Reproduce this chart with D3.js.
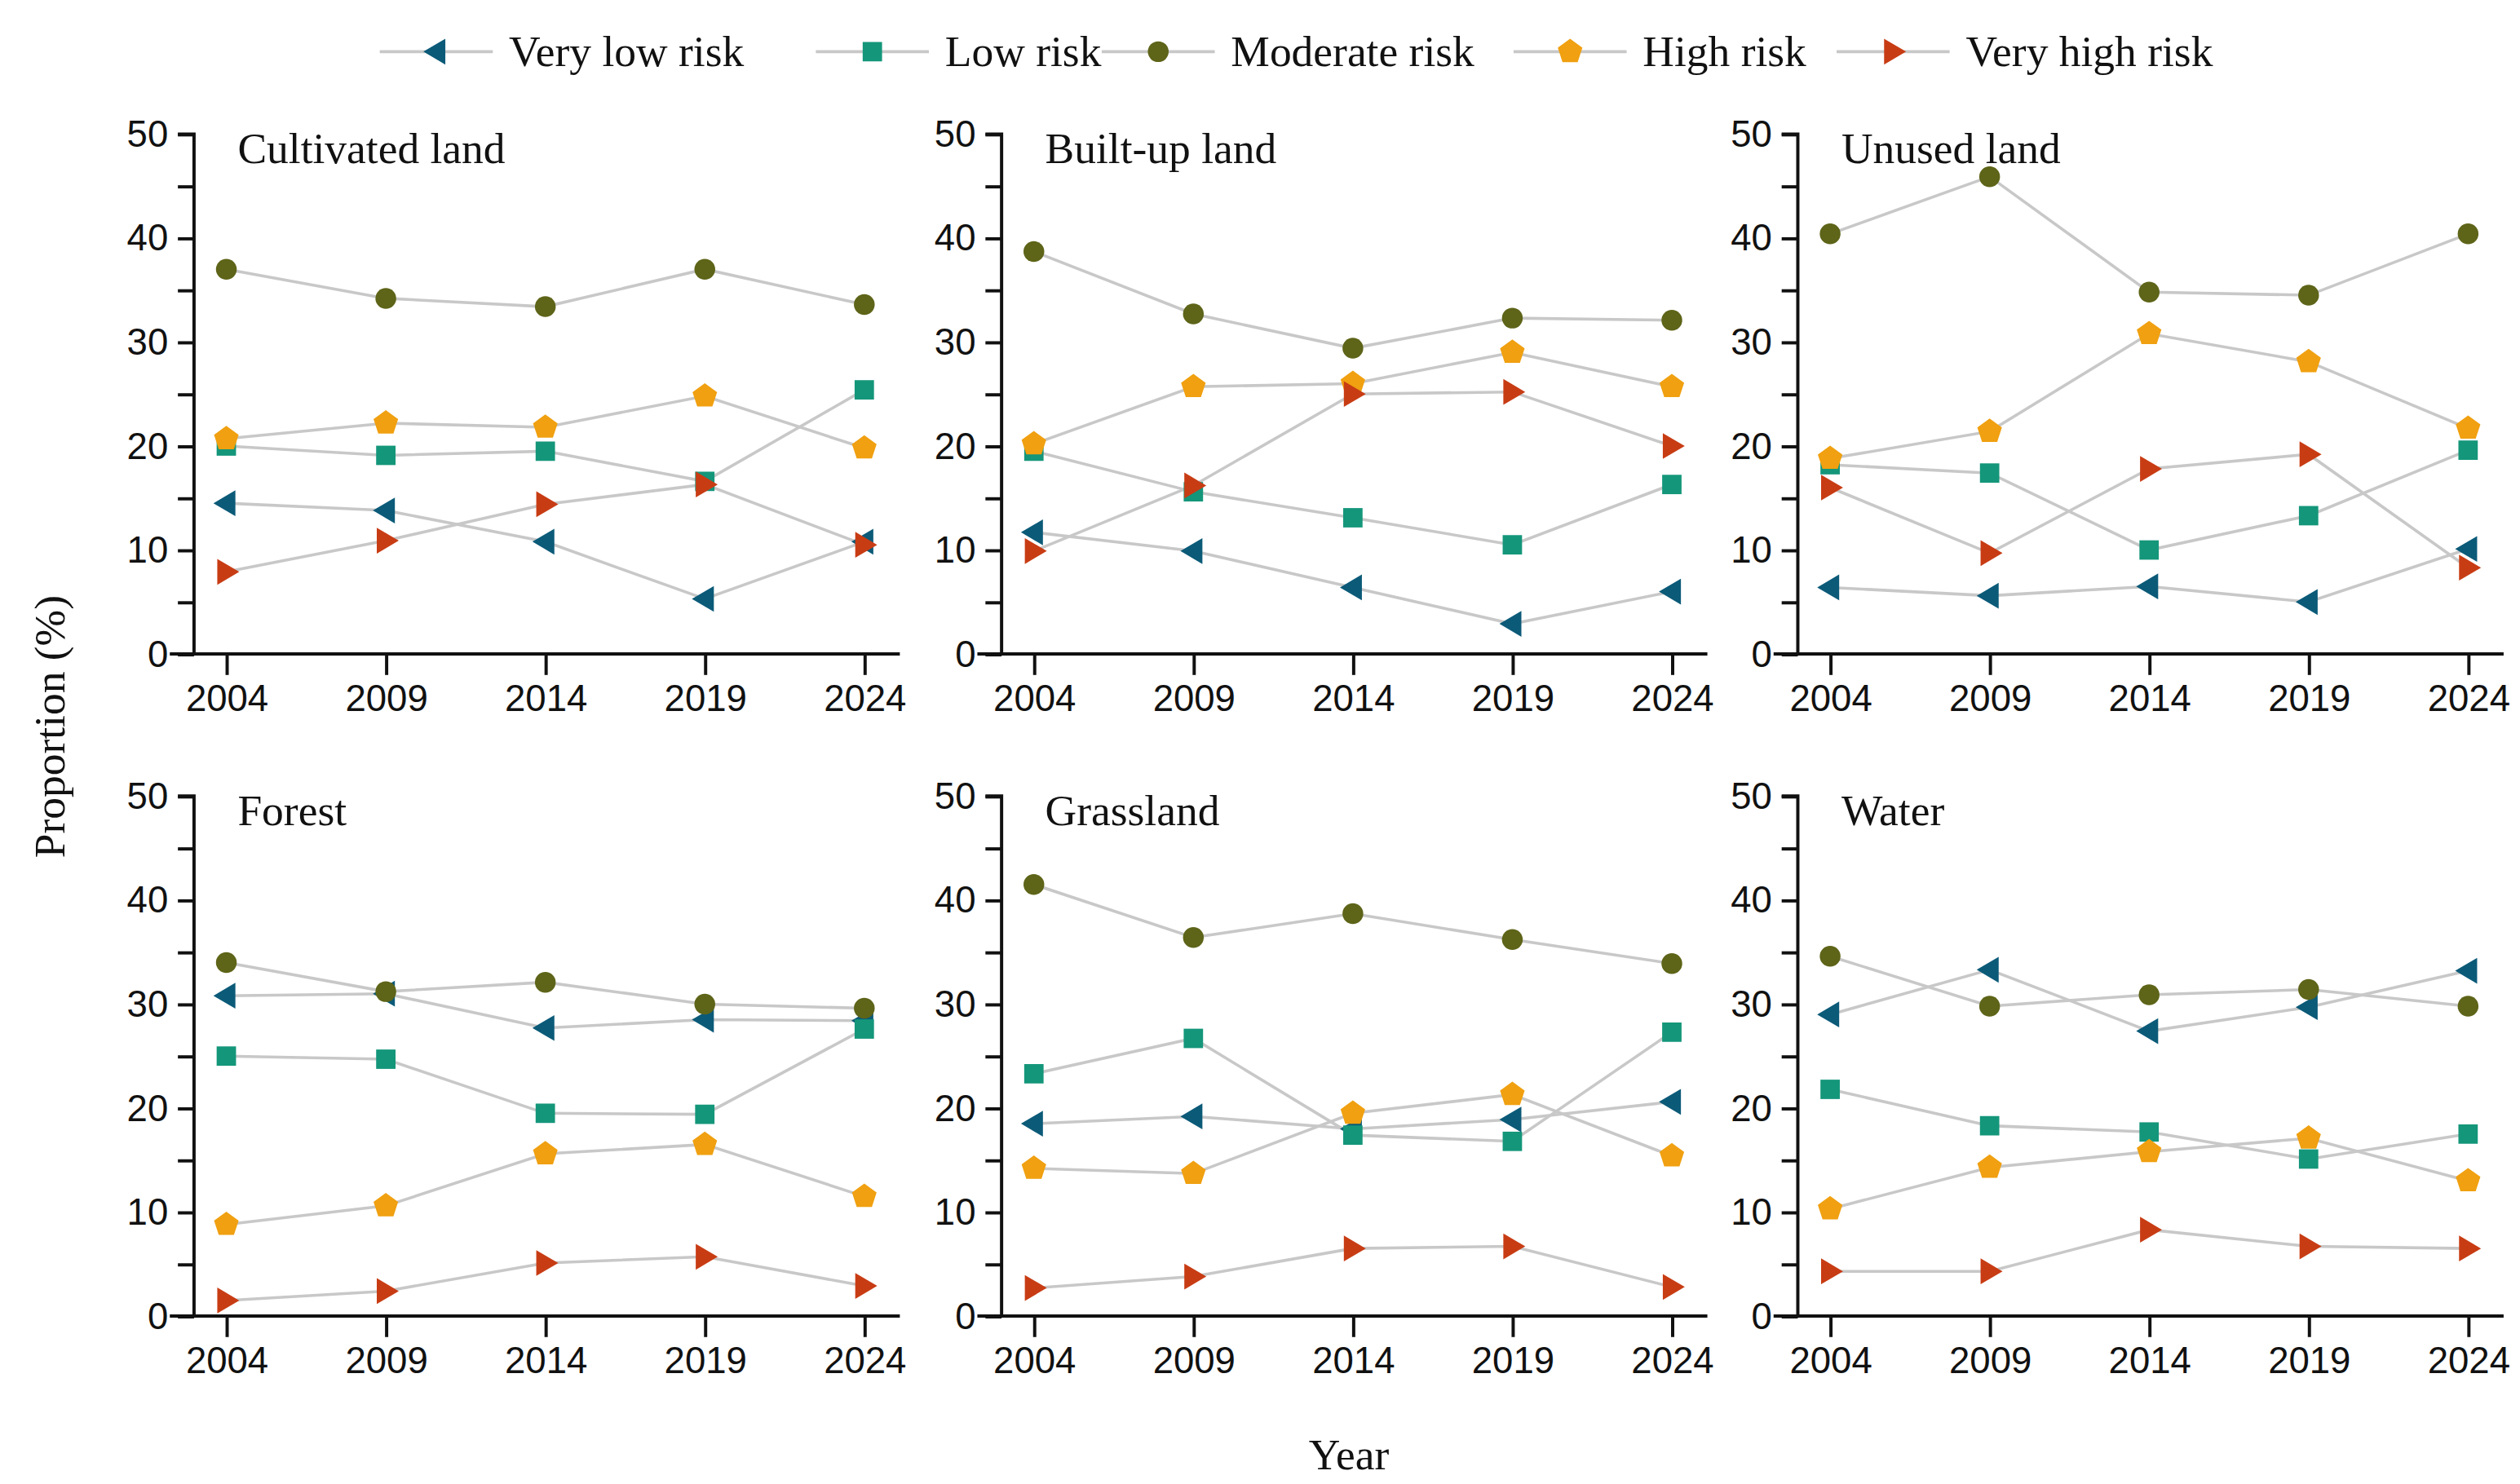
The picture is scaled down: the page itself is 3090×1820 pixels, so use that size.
<!DOCTYPE html><html><head><meta charset="utf-8"><script src="https://cdn.jsdelivr.net/npm/d3@7"></script>
<style>body{margin:0;background:#fff}</style></head><body><svg id="c"></svg><script>
const years=[2004,2009,2014,2019,2024];
const seriesNames=["Very low risk","Low risk","Moderate risk","High risk","Very high risk"];
const colors=["#0b5a78","#14967a","#5e6418","#f0a010","#c83c14"];
const panels=["Cultivated land","Built-up land","Unused land","Forest","Grassland","Water"];
const cultivated=[[14.5,13.8,10.8,5.3,10.8],[20,19.1,19.5,16.6,25.4],[37,34.2,33.4,37,33.6],[20.7,22.2,21.8,24.8,19.8],[7.9,10.9,14.4,16.3,10.5]];
const builtUp=[[11.7,9.9,6.4,2.9,6],[19.5,15.6,13.1,10.5,16.3],[38.7,32.7,29.4,32.3,32.1],[20.2,25.7,26,29,25.7],[9.9,16.2,25,25.2,20]];
const unused=[[6.4,5.6,6.5,5,10.1],[18.2,17.4,10,13.3,19.6],[40.4,45.9,34.8,34.5,40.4],[18.8,21.4,30.8,28.1,21.7],[16,9.7,17.8,19.2,8.3]];
const forest=[[30.8,31,27.7,28.5,28.4],[25,24.7,19.5,19.4,27.6],[34,31.2,32.1,30,29.6],[8.8,10.6,15.6,16.5,11.5],[1.5,2.4,5.1,5.7,2.9]];
const grassland=[[18.5,19.2,18,18.9,20.6],[23.3,26.7,17.4,16.8,27.3],[41.5,36.4,38.7,36.2,33.9],[14.2,13.7,19.5,21.3,15.4],[2.7,3.8,6.5,6.7,2.8]];
const water=[[29,33.3,27.4,29.7,33.2],[21.8,18.3,17.7,15.1,17.5],[34.6,29.8,30.9,31.4,29.8],[10.3,14.3,15.8,17.1,13],[4.3,4.3,8.3,6.7,6.5]];
const panelData=[cultivated,builtUp,unused,forest,grassland,water];
const yTicks=[0,10,20,30,40,50];

const svg=d3.select("#c").attr("width",3090).attr("height",1820).attr("viewBox","0 0 1560 919").style("font-family","'Liberation Serif','Times New Roman',serif");
const syms=[
 s=>{const r=8;return `M${-r},0L${r*0.7},${-r}L${r*0.7},${r}Z`},
 s=>"M-6,-6H6V6H-6Z",
 s=>d3.symbol(d3.symbolCircle,130)(),
 s=>{let p="";for(let i=0;i<5;i++){const a=-Math.PI/2+i*2*Math.PI/5;p+=(i?"L":"M")+(8*Math.cos(a)).toFixed(2)+","+(8*Math.sin(a)).toFixed(2);}return p+"Z"},
 s=>{const r=8;return `M${r},0L${-r*0.7},${-r}L${-r*0.7},${r}Z`}
];
const axX=[120,620,1113], axY=[[83,405],[493,815]];
panelData.forEach((data,pi)=>{
 const col=pi%3,row=Math.floor(pi/3);
 const x0=axX[col];
 const x=d3.scalePoint().domain(years).range([x0+20,x0+415]);
 const y=d3.scaleLinear().domain([0,50]).range([axY[row][1],axY[row][0]]);
 const g=svg.append("g");
 // x axis
 const xa=g.append("g").attr("transform",`translate(0,${y(0)})`).call(d3.axisBottom(x).tickSize(13).tickPadding(6));
 xa.select(".domain").attr("d",`M${x0-15},0H${x0+437}`);
 const ya=g.append("g").attr("transform",`translate(${x0},0)`).call(d3.axisLeft(y).tickValues(d3.range(0,51,5)).tickSize(10).tickPadding(6).tickFormat(d=>yTicks.includes(d)?d:""));
 ya.select(".domain").attr("d",`M0,${y(0)}V${y(50)}H-10`);
 g.selectAll(".tick text").attr("font-size",23).attr("fill","#111");
 g.selectAll(".domain,.tick line").attr("stroke","#111").attr("stroke-width",2);
 g.append("text").attr("x",x0+27).attr("y",y(50)+18).attr("font-size",27).attr("fill","#111").text(panels[pi]);
 const line=d3.line().x((d,i)=>x(years[i])).y(d=>y(d));
 data.forEach(s=>g.append("path").attr("d",line(s)).attr("fill","none").attr("stroke","#c8c8c8").attr("stroke-width",1.8));
 data.forEach((s,si)=>s.forEach((v,i)=>g.append("path").attr("d",syms[si]()).attr("transform",`translate(${x(years[i])},${y(v)})`).attr("fill",colors[si])));
});
// legend
const legX=[235,505,682,937,1137], legW=[80,80,80,80,80];
seriesNames.forEach((n,i)=>{
 const lg=svg.append("g").attr("transform",`translate(${legX[i]},32)`);
 lg.append("line").attr("x1",0).attr("x2",70).attr("stroke","#c8c8c8").attr("stroke-width",1.8);
 lg.append("path").attr("d",syms[i]()).attr("transform","translate(35,0)").attr("fill",colors[i]);
 lg.append("text").attr("x",80).attr("y",9).attr("font-size",27).attr("fill","#111").text(n);
});
svg.append("text").attr("transform","translate(40,450) rotate(-90)").attr("text-anchor","middle").attr("font-size",27).attr("fill","#111").text("Proportion (%)");
svg.append("text").attr("x",835).attr("y",910).attr("text-anchor","middle").attr("font-size",27).attr("fill","#111").text("Year");
</script></body></html>
